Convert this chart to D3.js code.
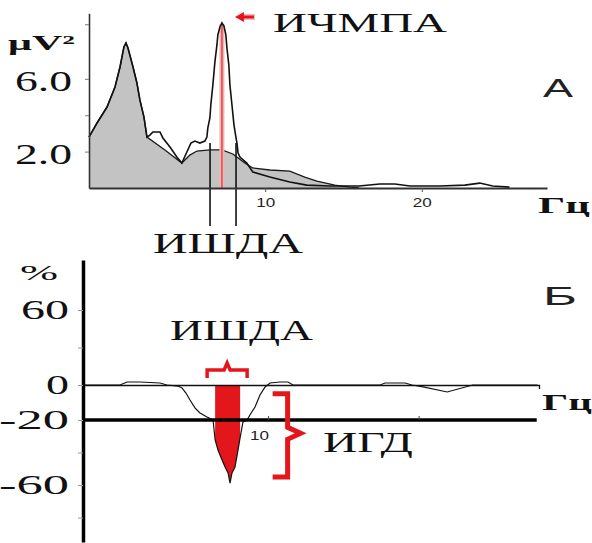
<!DOCTYPE html>
<html><head><meta charset="utf-8">
<script src="https://cdn.jsdelivr.net/npm/d3@7"></script>
<style>
  body { margin: 0; background: #fff; }
  svg { display: block; }
</style>
</head><body>
<svg id="chart" width="592" height="543"></svg>
<script>
// ---- data -------------------------------------------------------------
// Frequency band of the dominant alpha activity (ИШДА) and its peak (ИЧМПА), Hz
const bandHz = [6.48, 8.14];
const peakHz = 7.24;

// Background spectrum (grey area), Hz / μV²
const bgFreq  = [-1.25,-0.74,-0.10,0.41,0.73,0.98,1.11,1.24,1.56,1.81,2.00,2.26,2.45,3.60,4.68,5.19,5.64,6.47,7.24,7.94,8.70,9.21,10.3,11.57,12.53,13.3,14.45,15.4,16.0];
const bgPower = [2.80,3.57,4.45,5.55,6.65,7.75,7.97,7.69,6.65,5.77,4.84,3.90,2.80,2.09,1.37,1.81,2.03,2.09,2.09,1.87,1.37,1.10,0.99,0.93,0.60,0.38,0.16,0.05,0];

// Test spectrum (black line), Hz / μV²
const testFreq  = [-1.25,-0.74,-0.10,0.41,0.73,0.98,1.11,1.24,1.56,1.81,2.00,2.26,2.45,2.64,2.83,3.28,3.47,3.92,4.36,4.68,5.00,5.26,5.51,5.83,6.15,6.28,6.34,6.47,6.53,6.66,6.79,6.92,6.98,7.11,7.24,7.37,7.49,7.56,7.68,7.75,7.88,8.01,8.14,8.20,8.27,8.39,8.83,9.21,10.3,11.57,12.66,14.13,16.0,17.32,18.28,19.24,21.15,22.75,23.70,24.53,25.6];
const testPower = [2.80,3.57,4.45,5.55,6.65,7.75,7.97,7.69,6.65,5.77,4.84,3.90,2.80,2.91,3.08,3.08,2.75,2.25,1.70,1.37,1.98,2.47,2.58,2.47,2.58,2.80,3.30,3.85,4.56,5.66,6.92,7.86,8.41,8.85,9.07,8.90,8.41,7.69,6.76,5.66,4.56,3.46,2.75,2.47,1.92,1.70,1.37,0.88,0.60,0.33,0.16,0.11,0.11,0.22,0.22,0.11,0.11,0.16,0.27,0.11,0.05];

// Relative change of power, Hz / %
const diffFreq = [-2.3,0.16,0.62,1.49,2.82,3.28,4.01,4.28,4.54,4.81,5.14,5.47,5.94,6.34,6.48,6.67,6.94,7.14,7.34,7.47,7.60,7.80,8.00,8.14,8.33,8.60,8.80,9.13,9.46,9.80,10.13,10.79,11.32,11.65,17.44,17.77,19.1,19.56,20.3,21.9,23.6,27.9];
const diffPct  = [0,0,2.4,2.4,1.6,0,-0.6,-1.7,-4.6,-8.6,-13.1,-16,-18.3,-20,-32.3,-38.5,-44.6,-48.9,-52.6,-58.8,-52.6,-48.9,-38.5,-30.8,-21.2,-20,-17,-12.6,-5.7,-1.1,1.6,2.4,2.4,0,0,1.6,1.6,0,-1.1,-4,0,0];

// Axis ticks and labels
const topXTicks = [10, 20];
const topYTicks = [2, 4, 6, 9];
const topYLabels = [2, 6];
const botXTicks = [10, 20];
const botXLabels = [10];
const botYTicks = [60, 30, 0, -20, -40, -60, -80];
const botYLabels = [60, 0, -20, -60];

// ---- setup --------------------------------------------------------------
const svg = d3.select("#chart");
const SERIF = "'Liberation Serif', 'Times New Roman', serif";
const SANS = "'Liberation Sans', Arial, sans-serif";
const RED = "#e3161b";

function label(text, x, y, size, width, opts = {}) {
  const t = svg.append("text")
    .attr("x", x).attr("y", y)
    .attr("font-family", opts.family || SERIF)
    .attr("font-size", size)
    .attr("font-weight", opts.weight || "normal")
    .attr("fill", opts.fill || "#111")
    .text(text);
  if (width) t.attr("textLength", width).attr("lengthAdjust", "spacingAndGlyphs");
  return t;
}

// ---- panel A: power spectra -------------------------------------------
const xTop = d3.scaleLinear().domain([-1.25, 28]).range([89, 547]);
const yTop = d3.scaleLinear().domain([0, 9.6]).range([188, 13.3]);

const bg = d3.zip(bgFreq, bgPower);
const test = d3.zip(testFreq, testPower);

svg.append("path")
  .datum(bg)
  .attr("d", d3.area().x(d => xTop(d[0])).y0(yTop(0)).y1(d => yTop(d[1])))
  .attr("fill", "#c3c3c3");

svg.append("path")
  .datum(bg)
  .attr("d", d3.line().x(d => xTop(d[0])).y(d => yTop(d[1])))
  .attr("fill", "none").attr("stroke", "#1a1a1a").attr("stroke-width", 1.3);

// peak frequency marker
svg.append("line")
  .attr("x1", xTop(peakHz)).attr("x2", xTop(peakHz))
  .attr("y1", yTop(9.0)).attr("y2", yTop(0))
  .attr("stroke", "#f3b3b3").attr("stroke-width", 5);
svg.append("line")
  .attr("x1", xTop(peakHz)).attr("x2", xTop(peakHz))
  .attr("y1", yTop(9.0)).attr("y2", yTop(0))
  .attr("stroke", "#d9454a").attr("stroke-width", 1.4);

svg.append("path")
  .datum(test)
  .attr("d", d3.line().x(d => xTop(d[0])).y(d => yTop(d[1])))
  .attr("fill", "none").attr("stroke", "#111").attr("stroke-width", 1.6);

// band boundaries
bandHz.forEach(f => {
  svg.append("line")
    .attr("x1", xTop(f)).attr("x2", xTop(f))
    .attr("y1", 143).attr("y2", 226)
    .attr("stroke", "#111").attr("stroke-width", 1.6);
});

const gxTop = svg.append("g").attr("transform", `translate(0,${yTop(0)})`)
  .call(d3.axisBottom(xTop).tickValues(topXTicks).tickSizeInner(4).tickSizeOuter(0).tickPadding(6));
gxTop.select(".domain").attr("stroke", "#333").attr("stroke-width", 2);
gxTop.selectAll(".tick line").attr("stroke", "#555");
gxTop.selectAll(".tick text").attr("font-family", SANS).attr("font-size", 13)
  .attr("fill", "#222").attr("textLength", 19).attr("lengthAdjust", "spacingAndGlyphs");

const gyTop = svg.append("g").attr("transform", `translate(${xTop(-1.25)},0)`)
  .call(d3.axisLeft(yTop).tickValues(topYTicks).tickSizeInner(4).tickSizeOuter(0).tickPadding(13)
    .tickFormat(d => topYLabels.includes(d) ? d.toFixed(1) : ""));
gyTop.select(".domain").attr("stroke", "#333").attr("stroke-width", 1.6);
gyTop.selectAll(".tick line").attr("stroke", "#777");
gyTop.selectAll(".tick text").attr("font-family", SERIF).attr("font-size", 30)
  .attr("fill", "#111").attr("dy", "0.4em")
  .filter(d => topYLabels.includes(d))
  .attr("textLength", 57).attr("lengthAdjust", "spacingAndGlyphs");

label("μV²", 8, 50, 22, 67, { weight: "bold" });
label("Гц", 538, 213, 24, 52, { weight: "bold" });
label("А", 543, 97, 26, 30, { family: SANS, fill: "#222" });
label("ИЧМПА", 273, 32, 28, 174);
label("ИШДА", 153, 253, 30, 150);

// arrow towards the peak
const ax = xTop(peakHz) + 13, ay = 17;
svg.append("line").attr("x1", ax + 6).attr("x2", ax + 20).attr("y1", ay).attr("y2", ay)
  .attr("stroke", "#f6b9b9").attr("stroke-width", 6);
svg.append("line").attr("x1", ax + 6).attr("x2", ax + 19).attr("y1", ay).attr("y2", ay)
  .attr("stroke", RED).attr("stroke-width", 3);
svg.append("path")
  .attr("d", `M${ax},${ay} L${ax + 9},${ay - 5} L${ax + 9},${ay + 5} Z`)
  .attr("fill", RED);

// ---- panel Б: relative change -----------------------------------------
const xBot = d3.scaleLinear().domain([-2.3, 28]).range([83, 539]);
const yBot = d3.scaleLinear().domain([100, 60, 0, -20, -60, -95]).range([260, 310, 385, 420, 485, 542]);

const diff = d3.zip(diffFreq, diffPct);
const inBand = diff.filter(d => d[0] >= bandHz[0] && d[0] <= bandHz[1]);

svg.append("path")
  .datum(inBand)
  .attr("d", d3.area().x(d => xBot(d[0])).y0(yBot(0)).y1(d => yBot(d[1])))
  .attr("fill", RED);

// zero line
const gZero = svg.append("g").attr("transform", `translate(0,${yBot(0)})`)
  .call(d3.axisBottom(xBot).tickValues([]).tickSizeOuter(4));
gZero.select(".domain").attr("stroke", "#111").attr("stroke-width", 1.3);

svg.append("path")
  .datum(diff)
  .attr("d", d3.line().x(d => xBot(d[0])).y(d => yBot(d[1])))
  .attr("fill", "none").attr("stroke", "#111").attr("stroke-width", 1.2);

// -20 % threshold line carrying the frequency axis
const gxBot = svg.append("g").attr("transform", `translate(0,${yBot(-20)})`)
  .call(d3.axisBottom(xBot).tickValues(botXTicks).tickSizeInner(-4).tickSizeOuter(0).tickPadding(11)
    .tickFormat(d => botXLabels.includes(d) ? d : ""));
gxBot.select(".domain").attr("stroke", "#000").attr("stroke-width", 3.5)
  .attr("d", `M${xBot(-2.3)},0H${xBot(27.85)}`);
gxBot.selectAll(".tick line").attr("stroke", "#444");
gxBot.selectAll(".tick text").attr("font-family", SANS).attr("font-size", 13)
  .attr("fill", "#222").attr("dx", -9)
  .filter(d => botXLabels.includes(d))
  .attr("textLength", 19).attr("lengthAdjust", "spacingAndGlyphs");

const labelWidths = { 60: 48, 0: 23, "-20": 70, "-60": 70 };
const gyBot = svg.append("g").attr("transform", `translate(${xBot(-2.3)},0)`)
  .call(d3.axisLeft(yBot).tickValues(botYTicks).tickSizeInner(5).tickSizeOuter(0).tickPadding(9)
    .tickFormat(d => botYLabels.includes(d) ? String(d) : ""));
gyBot.select(".domain").attr("stroke", "#000").attr("stroke-width", 3.5);
gyBot.selectAll(".tick line").attr("stroke", "#999");
gyBot.selectAll(".tick text").attr("font-family", SERIF).attr("font-size", 28)
  .attr("fill", "#111").attr("dy", "0.3em")
  .filter(d => botYLabels.includes(d))
  .attr("textLength", d => labelWidths[d]).attr("lengthAdjust", "spacingAndGlyphs");

// bracket over the band
const bx0 = xBot(bandHz[0]) - 8, bx1 = xBot(bandHz[1]) + 7, bmid = (bx0 + bx1) / 2;
svg.append("path")
  .attr("d", `M${bx0},378 V370 H${bmid - 3} L${bmid},363 L${bmid + 3},370 H${bx1} V378`)
  .attr("fill", "none").attr("stroke", RED).attr("stroke-width", 3.5);

// brace spanning the depression (ИГД)
const cx = xBot(10.3), cTop = yBot(-5), cBot = yBot(-55), cMid = (cTop + cBot) / 2 - 2;
svg.append("path")
  .attr("d", `M${cx},${cTop} H${cx + 15} V${cMid - 6} L${cx + 28},${cMid} L${cx + 15},${cMid + 6} V${cBot} H${cx}`)
  .attr("fill", "none").attr("stroke", RED).attr("stroke-width", 5).attr("stroke-linejoin", "miter");

label("%", 20, 280, 22, 38);
label("ИШДА", 170, 340, 30, 143);
label("Б", 543, 305, 26, 34, { family: SANS, fill: "#222" });
label("Гц", 542, 410, 24, 50, { weight: "bold" });
label("ИГД", 323, 452, 30, 90);
</script>
</body></html>
